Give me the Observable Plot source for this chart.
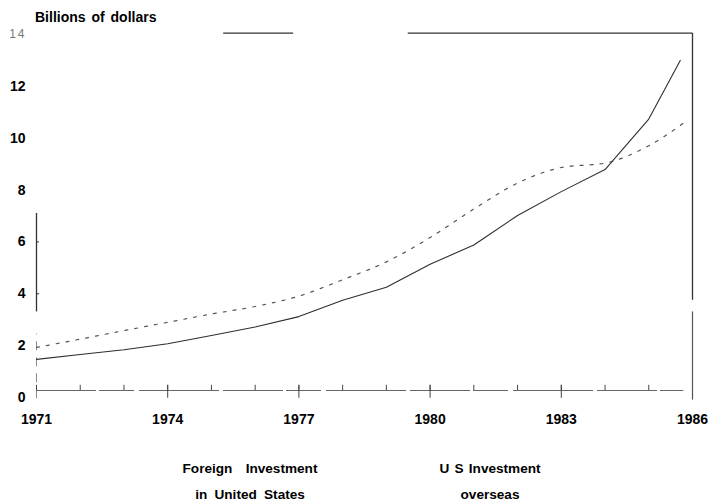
<!DOCTYPE html>
<html>
<head>
<meta charset="utf-8">
<script src="https://cdn.jsdelivr.net/npm/d3@7"></script>
<script src="https://cdn.jsdelivr.net/npm/@observablehq/plot@0.6"></script>
<style>
  body { margin: 0; background: #fff; }
  #chart svg { display: block; }
</style>
</head>
<body>
<div id="chart"></div>
<script>
// ---- data ----
const foreignYears = [1971,1972,1973,1974,1975,1976,1977,1978,1979,1980,1981,1982,1983,1984,1985,1985.72];
const foreignInUS  = [1.47,1.66,1.84,2.07,2.39,2.72,3.12,3.75,4.25,5.14,5.88,7.02,7.94,8.79,10.74,13.00];
const usYears      = [1971,1972,1973,1974,1975,1976,1977,1978,1979,1980,1981,1982,1983,1984,1985,1985.86];
const usOverseas   = [1.93,2.25,2.58,2.90,3.22,3.51,3.91,4.54,5.23,6.17,7.27,8.27,8.87,9.04,9.71,10.66];

const yTicks = [0,2,4,6,8,10,12];
const yTopTick = [14];
const xTickLabels = [1971,1974,1977,1980,1983,1986];
const minorTickYears = [1971,1972,1973,1974,1975,1976,1977,1978,1979,1980,1981,1982,1983,1984,1985];
const majorTickYears = [1974,1977,1980,1983];
const titleText = "Billions of dollars";
const legendForeign = ["Foreign Investment", "in United States"];
const legendUS = ["U S Investment", "overseas"];

const foreign = foreignYears.map((x, i) => ({x, y: foreignInUS[i]}));
const us = usYears.map((x, i) => ({x, y: usOverseas[i]}));

const FONT = "'Liberation Sans', Arial, Helvetica, sans-serif";

const plot = Plot.plot({
  width: 713,
  height: 504,
  marginTop: 34,
  marginBottom: 107,
  marginLeft: 36,
  marginRight: 21,
  style: {fontFamily: FONT, background: "#fff", color: "#000", overflow: "visible"},
  x: {domain: [1971, 1986], axis: null},
  y: {domain: [0, 14], axis: null},
  marks: [
    // frame pieces (scanned, broken)
    Plot.ruleY([14.05], {x1: 1975.28, x2: 1976.88, stroke: "#333", strokeWidth: 1.2}),
    Plot.ruleY([14.05], {x1: 1979.5, x2: 1986, stroke: "#333", strokeWidth: 1.2}),
    Plot.ruleX([1986], {y1: 3.75, y2: 14.05, stroke: "#333", strokeWidth: 1.3}),
    Plot.ruleX([1986], {y1: -0.1, y2: 3.3, stroke: "#555", strokeWidth: 1.2}),
    Plot.ruleX([1971], {y1: 3.3, y2: 7.1, stroke: "#333", strokeWidth: 1.3}),
    Plot.ruleX([1971], {y1: -0.05, y2: 2.45, stroke: "#888", strokeWidth: 1, strokeDasharray: "9,7"}),
    Plot.ruleY([4, 6], {x1: 1971, x2: 1971.07, stroke: "#333"}),
    // baseline with year ticks
    Plot.ruleY([0], {x1: 1971, x2: 1985.8, dy: -7, stroke: "#666", strokeWidth: 1, strokeDasharray: "60,3,35,5,80,4"}),
    Plot.ruleX(minorTickYears, {x: d => d, y1: 0, y2: 0.2, dy: -7, stroke: "#444"}),
    Plot.ruleX(majorTickYears, {x: d => d, y1: -0.3, y2: 0.2, dy: -7, stroke: "#444"}),
    // series
    Plot.line(us, {x: "x", y: "y", stroke: "#555", strokeWidth: 1.2, strokeDasharray: "3,7", curve: "monotone-x"}),
    Plot.line(foreign, {x: "x", y: "y", stroke: "#2e2e2e", strokeWidth: 1.1}),
    // y tick labels
    Plot.text(yTicks, {x: 1971, y: d => d, text: d => String(d), textAnchor: "end", dx: -11,
      fontSize: 14, fontWeight: "bold", fill: "#000"}),
    Plot.text(yTopTick, {x: 1971, y: d => d, text: d => String(d), textAnchor: "end", dx: -10,
      fontSize: 12, fontWeight: "normal", fill: "#777"}),
    // x tick labels
    Plot.text(xTickLabels, {x: d => d, y: 0, text: d => String(d), dy: 22,
      fontSize: 14, fontWeight: "bold", fill: "#000"})
  ]
});

document.getElementById("chart").appendChild(plot);

const svg = d3.select(plot);
svg.selectAll("text").filter(function() { return this.textContent === "14"; })
  .style("letter-spacing", "2px");

svg.append("text")
  .attr("x", 35).attr("y", 22)
  .attr("text-anchor", "start")
  .attr("font-family", FONT).attr("font-size", 14).attr("font-weight", "bold")
  .style("word-spacing", "2px")
  .text(titleText);

const legend = [
  {lines: legendForeign, cx: 250, ws: [9.5, 3.5]},
  {lines: legendUS, cx: 490, ws: [1.5, 0]}
];
legend.forEach(g => {
  g.lines.forEach((t, i) => {
    svg.append("text")
      .attr("x", g.cx).attr("y", 473 + i * 26)
      .attr("text-anchor", "middle")
      .attr("font-family", FONT).attr("font-size", 13.6).attr("font-weight", "bold")
      .style("word-spacing", g.ws[i] + "px")
      .text(t);
  });
});
</script>
</body>
</html>
